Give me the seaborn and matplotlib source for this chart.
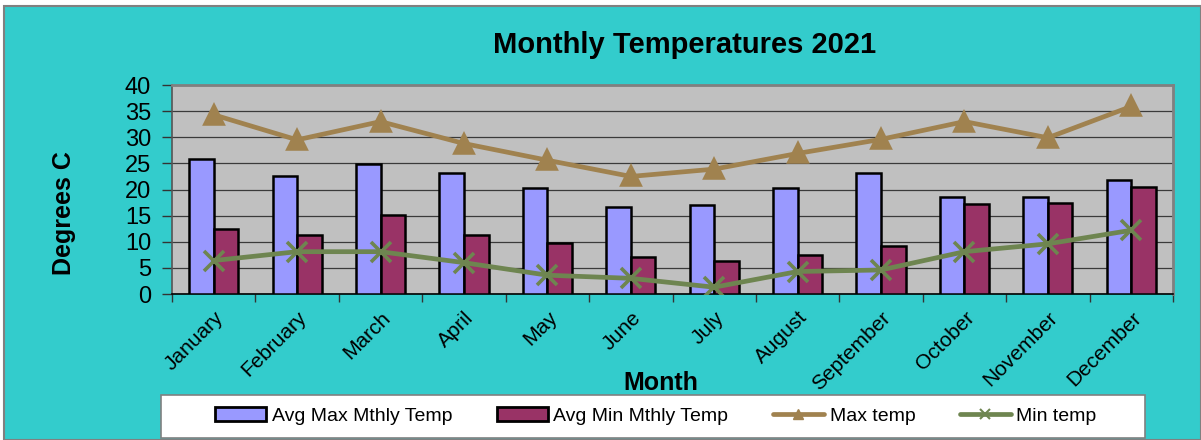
import pandas as pd
import numpy as np
import matplotlib
matplotlib.use('Agg')
import matplotlib.pyplot as plt
from matplotlib.patches import Patch, Rectangle
from matplotlib.lines import Line2D
import seaborn as sns

# ---------------------------------------------------------------
# 데이터
# ---------------------------------------------------------------
months = ['January', 'February', 'March', 'April', 'May', 'June',
          'July', 'August', 'September', 'October', 'November', 'December']
avg_max = [25.8, 22.5, 24.9, 23.2, 20.2, 16.7, 17.0, 20.2, 23.1, 18.6, 18.6, 21.8]
avg_min = [12.5, 11.2, 15.1, 11.3, 9.7, 7.1, 6.4, 7.4, 9.1, 17.2, 17.5, 20.5]
max_temp = [34.3, 29.5, 33.0, 28.8, 25.6, 22.5, 23.9, 26.9, 29.6, 33.0, 29.9, 35.9]
min_temp = [6.4, 8.1, 8.1, 6.0, 3.6, 3.0, 1.3, 4.3, 4.6, 8.1, 9.6, 12.2]

series_names = ['Avg Max Mthly Temp', 'Avg Min Mthly Temp']
bar_df = pd.DataFrame({
    'Month': months * 2,
    'Temp': avg_max + avg_min,
    'Series': [series_names[0]] * 12 + [series_names[1]] * 12,
})

teal = '#33CCCC'
c_blue = '#9999FF'
c_maroon = '#993366'
c_tan = '#A0824F'
c_olive = '#6E8550'

sns.set_style('white')
plt.rcParams['font.family'] = ['Liberation Sans', 'DejaVu Sans']
plt.rcParams['text.color'] = 'black'
plt.rcParams['xtick.color'] = 'black'
plt.rcParams['ytick.color'] = 'black'
plt.rcParams['xtick.labelcolor'] = 'black'
plt.rcParams['ytick.labelcolor'] = 'black'

fig = plt.figure(figsize=(12.01, 4.40), dpi=100)
fig.patch.set_facecolor('white')
fig.patches.append(Rectangle((0.003, 0), 0.997, 0.986, transform=fig.transFigure,
                             facecolor=teal, edgecolor='#808080', linewidth=1.5, zorder=-10))

ax = fig.add_axes([172 / 1201, 1 - 294 / 440, 1001 / 1201, 209 / 440])
ax.set_facecolor('#C0C0C0')

sns.barplot(data=bar_df, x='Month', y='Temp', hue='Series', palette=[c_blue, c_maroon],
            width=0.59, saturation=1, edgecolor='black', linewidth=1.8, legend=False,
            ax=ax, zorder=3)
sns.pointplot(x=months, y=max_temp, color=c_tan, marker='^', markersize=13,
              linewidth=3.4, ax=ax, zorder=4)
sns.pointplot(x=months, y=min_temp, color=c_olive, marker='x', markersize=14,
              markeredgewidth=2.6, linewidth=3.4, ax=ax, zorder=4)

ax.set_xlim(-0.5, 11.5)
ax.set_ylim(0, 40)
ax.set_yticks(range(0, 41, 5))
ax.yaxis.grid(True, color='#3A3A3A', linewidth=0.9, zorder=1)
ax.set_axisbelow(True)
ax.set_xlabel('')
ax.set_ylabel('')

# 눈금
ax.set_xticks(range(12))
ax.set_xticklabels(months, rotation=45, ha='right', rotation_mode='anchor', fontsize=15)
ax.set_xticks(np.arange(-0.5, 12, 1), minor=True)
ax.tick_params(axis='x', which='major', length=0, pad=10)
ax.tick_params(axis='x', which='minor', length=6, width=1, color='#333333', direction='out', bottom=True)
ax.tick_params(axis='y', length=7, width=1, color='#333333', direction='out', left=True,
               labelsize=17, pad=8)

for side in ['top', 'right']:
    ax.spines[side].set_color('#808080')
    ax.spines[side].set_linewidth(2)
ax.spines['left'].set_color('#555555')
ax.spines['left'].set_linewidth(1.2)
ax.spines['bottom'].set_color('black')
ax.spines['bottom'].set_linewidth(1.2)

# 제목 및 축 이름
fig.text(685 / 1201, 1 - 45 / 440, 'Monthly Temperatures 2021', ha='center', va='center',
         fontsize=21, fontweight='bold')
fig.text(64 / 1201, 1 - 213 / 440, 'Degrees C', rotation=90, ha='center', va='center',
         fontsize=18, fontweight='bold')
fig.text(661 / 1201, 1 - 383 / 440, 'Month', ha='center', va='center',
         fontsize=18, fontweight='bold')

# 범례
fig.patches.append(Rectangle((161 / 1201, 2 / 440), 984 / 1201, 43 / 440, transform=fig.transFigure,
                             facecolor='white', edgecolor='#808080', linewidth=1.2, zorder=1))
handles = [
    Patch(facecolor=c_blue, edgecolor='black', linewidth=2),
    Patch(facecolor=c_maroon, edgecolor='black', linewidth=2),
    Line2D([], [], color=c_tan, linewidth=3.4, marker='^', markersize=7),
    Line2D([], [], color=c_olive, linewidth=3.4, marker='x', markersize=7, markeredgewidth=1.5),
]
labels = series_names + ['Max temp', 'Min temp']
fig.legend(handles, labels, loc='center', bbox_to_anchor=(656 / 1201, 1 - 416 / 440),
           ncol=4, frameon=False, fontsize=14, handlelength=2.6, handletextpad=0.3,
           columnspacing=2.3, handleheight=0.7)

fig.savefig('out.png', dpi=100, facecolor=fig.get_facecolor())
